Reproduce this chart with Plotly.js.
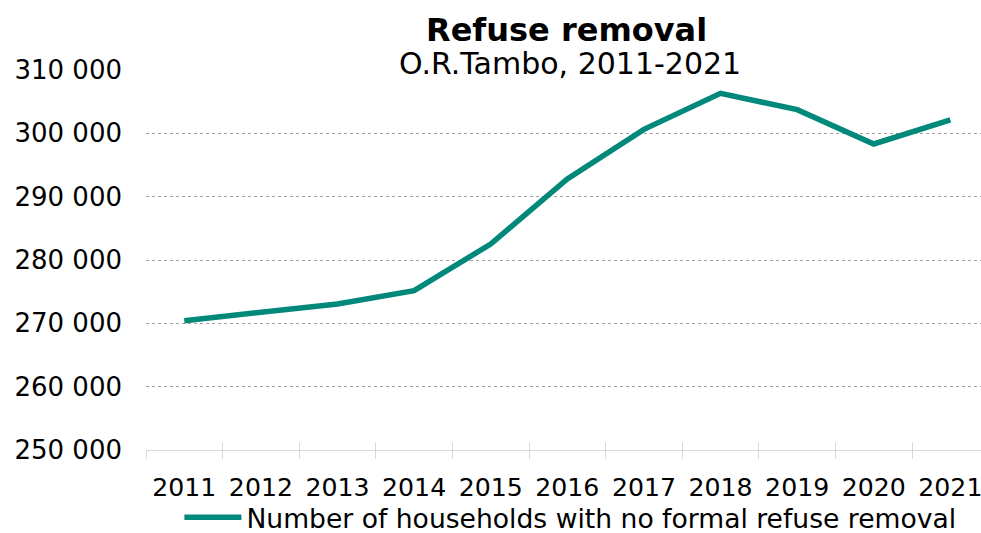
<!DOCTYPE html>
<html>
<head>
<meta charset="utf-8">
<script src="https://cdn.plot.ly/plotly-3.0.1.min.js"></script>
<style>
html,body{margin:0;padding:0;background:#fff;}
#chart{width:981px;height:533px;}
</style>
</head>
<body>
<div id="chart"></div>
<script>
const years = ["2011","2012","2013","2014","2015","2016","2017","2018","2019","2020","2021"];
const households = [270420, 271850, 273060, 275160, 282530, 292790, 300630, 306320, 303740, 298320, 302120];
const seriesName = "Number of households with no formal refuse removal";
const titleText = "Refuse removal";
const subtitleText = "O.R.Tambo, 2011-2021";
const yTicks = [250000, 260000, 270000, 280000, 290000, 300000, 310000];

const FONT = "DejaVu Sans, Verdana, sans-serif";
const TEAL = "#00897B";

const traces = [
  {
    type: "scatter",
    mode: "lines",
    x: years,
    y: households,
    name: seriesName,
    line: {color: TEAL, width: 5.5},
    hoverinfo: "x+y"
  },
  {
    type: "scatter",
    mode: "lines",
    x: years,
    y: households,
    xaxis: "x2",
    showlegend: false,
    hoverinfo: "skip",
    line: {color: "rgba(0,0,0,0)", width: 0}
  }
];

const xRange = [-0.5, 10.4];

const layout = {
  width: 981,
  height: 533,
  margin: {l: 146, r: 0, t: 70, b: 83, pad: 0, autoexpand: false},
  paper_bgcolor: "#ffffff",
  plot_bgcolor: "#ffffff",
  separators: ", ",
  font: {family: FONT, color: "#000000", size: 25},
  showlegend: true,
  legend: {
    orientation: "h",
    x: 0.04,
    xanchor: "left",
    yref: "container",
    y: 0.074,
    yanchor: "top",
    font: {family: FONT, size: 26.6, color: "#000000"},
    itemwidth: 57,
    bgcolor: "rgba(0,0,0,0)"
  },
  xaxis: {
    type: "category",
    range: xRange,
    showgrid: false,
    zeroline: false,
    showline: true,
    linecolor: "#D9D9D9",
    linewidth: 1,
    ticks: "outside",
    tickson: "boundaries",
    ticklen: 8,
    tickcolor: "#D9D9D9",
    tickwidth: 1,
    tickangle: 0,
    tickfont: {family: FONT, size: 25.2, color: "#000000"},
    ticklabelstandoff: 15,
    automargin: false,
    fixedrange: true
  },
  xaxis2: {
    type: "category",
    overlaying: "x",
    side: "bottom",
    anchor: "y",
    range: xRange,
    showgrid: false,
    zeroline: false,
    showline: false,
    ticks: "inside",
    tickson: "boundaries",
    ticklen: 8,
    tickcolor: "#D9D9D9",
    tickwidth: 1,
    showticklabels: false,
    automargin: false,
    fixedrange: true
  },
  yaxis: {
    range: [250000, 310000],
    tickvals: yTicks,
    tickformat: ",d",
    showgrid: true,
    gridcolor: "#A0A0A0",
    griddash: "dot",
    gridwidth: 1,
    zeroline: false,
    showline: false,
    ticks: "",
    tickfont: {family: FONT, size: 26, color: "#000000"},
    ticklabelstandoff: 23,
    automargin: false,
    fixedrange: true
  },
  annotations: [
    {
      xref: "paper", yref: "paper",
      x: 0.504, y: 1.0, yshift: 40,
      xanchor: "center", yanchor: "middle",
      showarrow: false,
      text: "<b>" + titleText + "</b>",
      font: {family: FONT, size: 32, color: "#000000"}
    },
    {
      xref: "paper", yref: "paper",
      x: 0.508, y: 1.0, yshift: 7,
      xanchor: "center", yanchor: "middle",
      showarrow: false,
      text: subtitleText,
      font: {family: FONT, size: 30, color: "#000000"}
    }
  ]
};

Plotly.newPlot("chart", traces, layout, {displayModeBar: false, staticPlot: true});
</script>
</body>
</html>
